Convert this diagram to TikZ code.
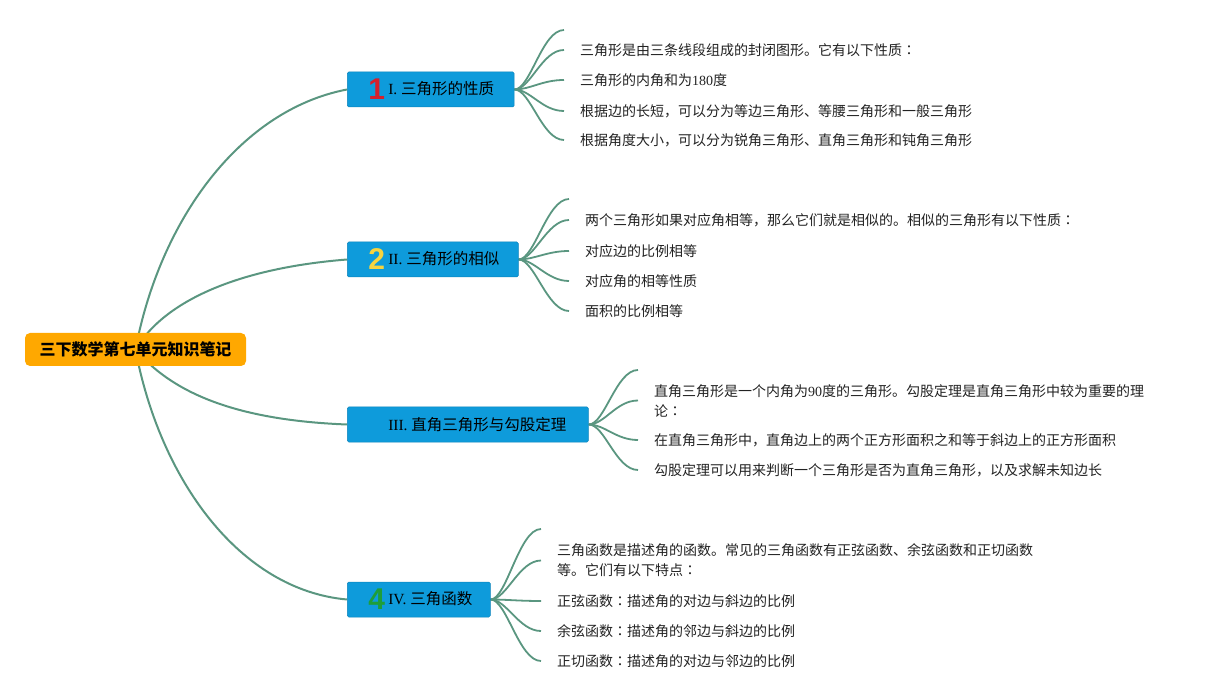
\documentclass[tikz,border=0pt]{standalone}
\usepackage{fontspec}
\usepackage{xcolor}
\setmainfont{Liberation Serif}
\newfontfamily\cjk{Noto Sans CJK SC}
\newfontfamily\cjktc{Noto Sans CJK TC}
\newfontfamily\iconfont{Liberation Sans}
\usetikzlibrary{backgrounds}

\definecolor{rootorange}{RGB}{255,168,0}
\definecolor{topicblue}{RGB}{14,155,219}
\definecolor{linkgreen}{RGB}{90,150,128}
\definecolor{iconred}{RGB}{214,32,44}
\definecolor{iconyellow}{RGB}{246,212,64}
\definecolor{icongreen}{RGB}{30,158,58}
\definecolor{leafgray}{RGB}{34,34,34}

\newcommand{\numicon}[2]{\makebox[20pt][l]{\raisebox{-5pt}{\iconfont\bfseries\fontsize{30}{30}\selectfont\color{#1}#2}}}
\newcommand{\zhcolon}{{\cjktc ：}}

\begin{document}
\begin{tikzpicture}[x=1pt,y=-1pt]
% Define styles
\tikzstyle{rootbox}=[rectangle, rounded corners=5pt, fill=rootorange, minimum width=221pt, minimum height=33pt, font=\cjk\bfseries\fontsize{16}{18}\selectfont]
\tikzstyle{topic}=[rectangle, rounded corners=1.5pt, fill=topicblue, draw=topicblue!85!black, line width=0.5pt, anchor=west, minimum height=35pt, inner xsep=0pt, inner ysep=0pt, font=\fontsize{15.5}{18}\selectfont]
\tikzstyle{leaf}=[anchor=west, inner xsep=16pt, inner ysep=0pt, align=left, text=leafgray, font=\cjk\fontsize{14}{20}\selectfont]
\tikzstyle{rootlink}=[draw=linkgreen, line width=2pt]
\tikzstyle{leaflink}=[draw=linkgreen, line width=1.8pt]

\useasboundingbox (0,0) rectangle (1213,700);

% Root topic
\node[rootbox] (root) at (135.5,349.5) {三下数学第七单元知识笔记};

% Main topics
\node[topic] (b1) at (347,89.5) {\kern21pt\numicon{iconred}{1}I. {\cjk 三角形的性质}\kern20pt};
\node[topic] (b2) at (347,259.5) {\kern21pt\numicon{iconyellow}{2}II. {\cjk 三角形的相似}\kern19pt};
\node[topic] (b3) at (347,424.5) {\kern21pt\makebox[20pt]{}III. {\cjk 直角三角形与勾股定理}\kern22pt};
\node[topic] (b4) at (347,599.5) {\kern21pt\numicon{icongreen}{4}IV. {\cjk 三角函数}\kern18pt};

% Details of I
\coordinate (t1) at (564,30);
\node[leaf] (l11) at (564,50) {三角形是由三条线段组成的封闭图形。它有以下性质\zhcolon};
\node[leaf] (l12) at (564,80) {三角形的内角和为{\rmfamily 180}度};
\node[leaf] (l13) at (564,111) {根据边的长短，可以分为等边三角形、等腰三角形和一般三角形};
\node[leaf] (l14) at (564,140) {根据角度大小，可以分为锐角三角形、直角三角形和钝角三角形};

% Details of II
\coordinate (t2) at (569,199);
\node[leaf] (l21) at (569,220) {两个三角形如果对应角相等，那么它们就是相似的。相似的三角形有以下性质\zhcolon};
\node[leaf] (l22) at (569,251) {对应边的比例相等};
\node[leaf] (l23) at (569,281) {对应角的相等性质};
\node[leaf] (l24) at (569,311) {面积的比例相等};

% Details of III
\coordinate (t3) at (638,370);
\node[leaf] (l31) at (638,400.5) {直角三角形是一个内角为{\rmfamily 90}度的三角形。勾股定理是直角三角形中较为重要的理\\论\zhcolon};
\node[leaf] (l32) at (638,440) {在直角三角形中，直角边上的两个正方形面积之和等于斜边上的正方形面积};
\node[leaf] (l33) at (638,470) {勾股定理可以用来判断一个三角形是否为直角三角形，以及求解未知边长};

% Details of IV
\coordinate (t4) at (541,529);
\node[leaf] (l41) at (541,560.5) {三角函数是描述角的函数。常见的三角函数有正弦函数、余弦函数和正切函数\\等。它们有以下特点\zhcolon};
\node[leaf] (l42) at (541,601) {正弦函数\zhcolon 描述角的对边与斜边的比例};
\node[leaf] (l43) at (541,631) {余弦函数\zhcolon 描述角的邻边与斜边的比例};
\node[leaf] (l44) at (541,661) {正切函数\zhcolon 描述角的对边与邻边的比例};

% Connectors
\begin{scope}[on background layer]
\draw[rootlink] (root.center) .. controls (160,220) and (240,110) .. (b1.west);
\draw[rootlink] (root.center) .. controls (165,300) and (240,268) .. (b2.west);
\draw[rootlink] (root.center) .. controls (170,390) and (230,420) .. (b3.west);
\draw[rootlink] (root.center) .. controls (160,480) and (240,590) .. (b4.west);

\foreach \b/\t in {1/t1,2/t2,3/t3,4/t4}
  \draw[leaflink] (b\b.east) .. controls +(16,0) and +(-22,0) .. (\t);
\foreach \l in {11,12,13,14}
  \draw[leaflink] (b1.east) .. controls +(16,0) and +(-22,0) .. (l\l.west);
\foreach \l in {21,22,23,24}
  \draw[leaflink] (b2.east) .. controls +(16,0) and +(-22,0) .. (l\l.west);
\foreach \l in {31,32,33}
  \draw[leaflink] (b3.east) .. controls +(16,0) and +(-22,0) .. (l\l.west);
\foreach \l in {41,42,43,44}
  \draw[leaflink] (b4.east) .. controls +(16,0) and +(-22,0) .. (l\l.west);
\end{scope}

\end{tikzpicture}
\end{document}
